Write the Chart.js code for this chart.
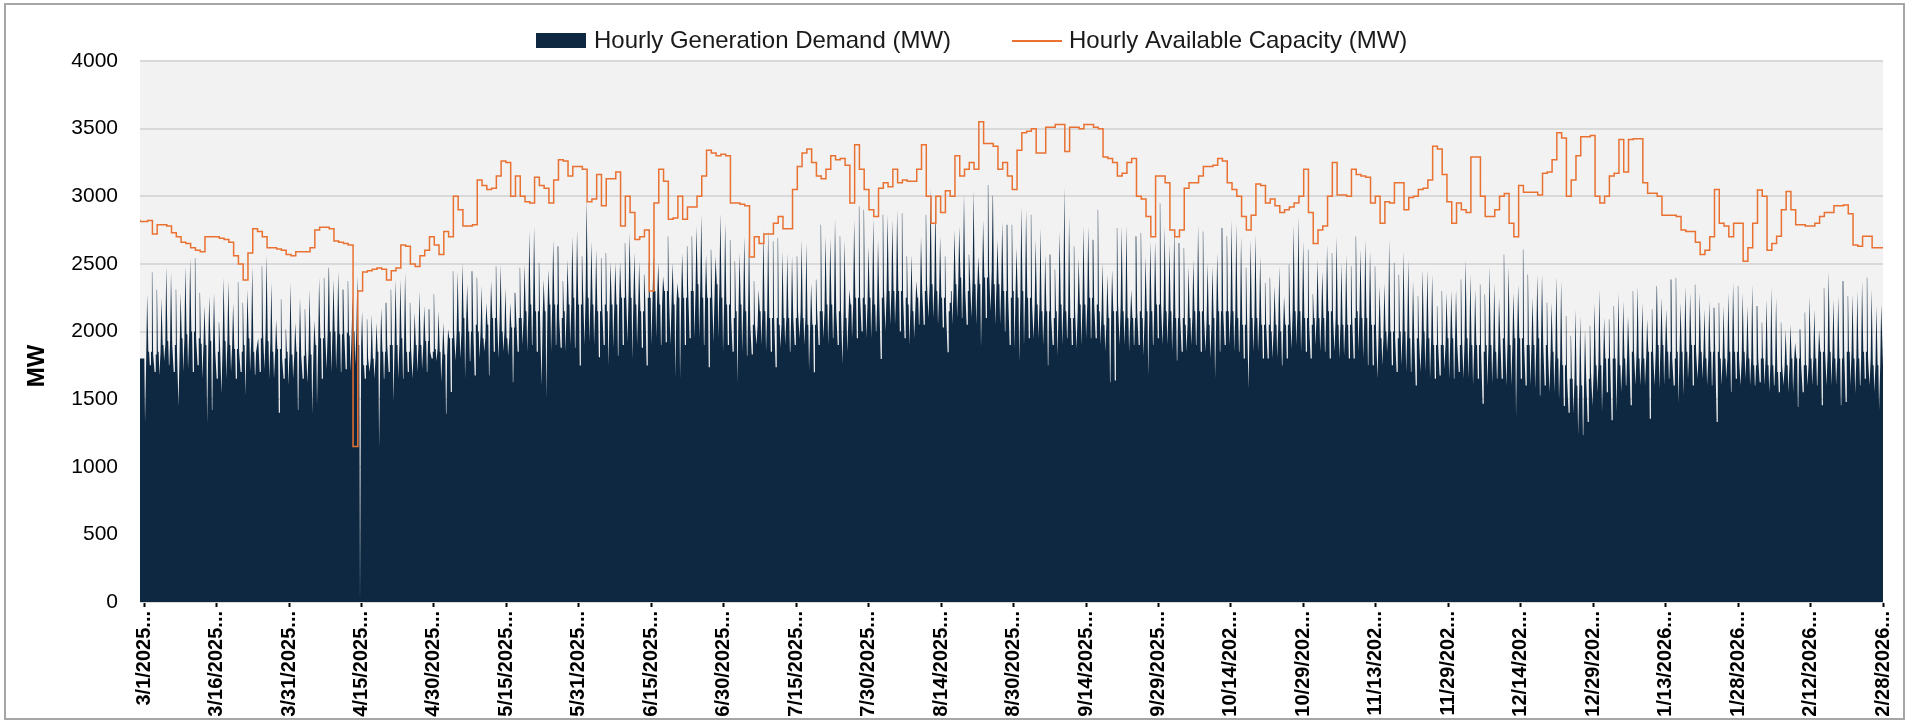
<!DOCTYPE html>
<html>
<head>
<meta charset="utf-8">
<script src="https://cdn.jsdelivr.net/npm/chart.js@4.4.1/dist/chart.umd.min.js"></script>
<style>
html,body{margin:0;padding:0;background:#fff;}
canvas{display:block;}
</style>
</head>
<body>
<canvas id="c" width="1911" height="723"></canvas>
<script>
// ---------- DATA ----------
const tickLabels = ['3/1/2025...','3/16/2025...','3/31/2025...','4/15/2025...','4/30/2025...','5/15/2025...','5/31/2025...','6/15/2025...','6/30/2025...','7/15/2025...','7/30/2025...','8/14/2025...','8/30/2025...','9/14/2025...','9/29/2025...','10/14/202...','10/29/202...','11/13/202...','11/29/202...','12/14/202...','12/29/202...','1/13/2026...','1/28/2026...','2/12/2026...','2/28/2026...'];
const yTicks = [0,500,1000,1500,2000,2500,3000,3500,4000];

// daily peak of hourly generation demand (MW), 3/1/2025 .. 2/27/2026
const demandPeak = [
2275,2439,2311,2250,2483,2439,2311,2287,2483,2544,2544,2287,2189,2262,2287,2066,2397,2373,2213,2365,
2213,2311,2483,1895,2483,2569,2360,2091,2238,2017,2360,2066,2250,2164,2311,2079,2397,2397,2471,2385,
2446,2311,2373,2262,2409,2150,2091,2128,2066,2176,2213,2311,2385,2385,2434,2213,2140,2299,2189,2164,
2275,2152,2066,2017,2446,2446,2508,2348,2446,2397,2336,2213,2373,2483,2495,2324,2213,2287,2471,2495,
2740,2777,2508,2385,2458,2679,2630,2373,2532,2704,2753,2557,2985,2667,2606,2544,2581,2520,2508,2520,
2655,2728,2581,2520,2422,2508,2557,2508,2409,2704,2508,2360,2581,2630,2704,2777,2863,2569,2606,2557,
2875,
2802,2679,2520,2581,2704,2728,2373,2311,2753,2753,2667,2691,2593,2581,2557,2557,2679,2655,2360,2385,
2789,2704,2691,2838,2704,2679,2311,2826,2924,2900,2630,2838,2679,2863,2863,2826,2900,2875,2557,2569,
2373,2704,2863,3059,2961,2704,2557,2213,2753,2777,3022,2569,3047,2557,2826,3083,3004,2679,2814,2789,
2789,2618,2924,2900,2863,2679,2765,2569,2569,2458,2740,3071,2851,2630,2544,2777,2777,2679,2900,2508,
2422,2458,2765,2777,2789,2311,2704,2728,2557,2667,2667,2949,2777,2643,2777,2655,2618,2483,2532,2789,
2740,2508,2483,2581,2765,2704,2826,2802,2704,2471,2679,2716,2557,2360,2397,2336,2483,2262,2495,2789,
2851,
2667,2606,2275,2532,2446,2643,2581,2704,2508,2569,2483,2704,2606,2679,2593,2483,2336,2360,2679,2508,
2422,2593,2532,2373,2262,2458,2458,2422,2189,2299,2287,2299,2311,2385,2532,2422,2311,2348,2275,2483,
2360,2250,2569,2483,2287,2348,2606,2422,2250,2422,2422,2213,2213,2409,2373,2115,1968,2164,2115,2017,
2042,
2213,2311,2103,2091,2189,2287,2226,2115,2299,2336,2213,2091,2164,2336,2250,2164,2385,2397,2213,2336,
2287,2348,2287,2164,2226,2176,2213,2189,2287,2360,2336,2287,2189,2348,2189,2066,2238,2324,2250,2066,
2017,2054,1919,2017,2140,2262,2164,2017,2324,2446,2238,2262,2373,2262,2275,2299,2373,2397,2311,2189,
2201
];

// typical daytime (body) level of hourly demand for each day (MW)
const demandBody = [
1800,1850,1830,1850,1900,1930,1900,1850,1950,1980,2000,1950,1910,1900,1930,1850,1900,1930,1900,1870,
1850,1900,1950,1850,1950,2000,1930,1850,1870,1800,1850,1830,1850,1820,1870,1830,1900,1950,2000,2000,
2000,1980,1990,1970,2000,1900,1750,1800,1800,1850,1850,1900,1900,1900,1950,1850,1870,1900,1900,1930,
1850,1870,1850,1830,1950,2000,2000,2100,2000,2050,2000,1950,2050,2100,2100,2000,1950,2030,2100,2100,
2150,2200,2150,2100,2150,2200,2200,2100,2150,2200,2250,2200,2300,2250,2200,2150,2200,2150,2200,2200,
2250,2300,2250,2200,2150,2250,2250,2300,2200,2300,2250,2200,2250,2250,2300,2300,2350,2250,2250,2300,
2350,
2250,2200,2100,2150,2200,2150,2050,2050,2150,2150,2100,2100,2050,2100,2100,2100,2150,2100,2050,2050,
2150,2150,2200,2200,2150,2150,2100,2200,2250,2250,2200,2250,2200,2250,2300,2300,2300,2300,2250,2200,
2150,2250,2300,2350,2350,2300,2250,2150,2300,2350,2400,2300,2400,2350,2350,2400,2450,2350,2350,2300,
2250,2300,2250,2300,2250,2200,2200,2150,2150,2100,2150,2200,2150,2100,2150,2200,2200,2250,2200,2150,
2050,2100,2150,2200,2150,2100,2100,2150,2100,2150,2150,2200,2200,2150,2150,2100,2100,2050,2100,2150,
2150,2100,2050,2100,2150,2150,2150,2150,2100,2050,2100,2100,2100,2050,2050,2000,2050,2000,2050,2150,
2150,
2150,2100,2050,2100,2100,2100,2150,2100,2050,2050,2050,2100,2150,2100,2100,2050,2000,1950,2000,2000,
1950,2000,2000,1950,1950,1950,2000,1950,1900,1900,1900,1950,1950,1900,1950,1950,1900,1900,1850,1900,
1900,1850,1950,1950,1900,1950,1950,1900,1900,1900,1950,1900,1850,1850,1800,1750,1650,1650,1600,1600,
1650,
1700,1750,1750,1800,1800,1800,1750,1800,1850,1850,1800,1800,1850,1850,1900,1900,1850,1800,1850,1850,
1850,1900,1850,1850,1800,1850,1850,1800,1800,1850,1850,1800,1850,1800,1750,1800,1800,1750,1750,1700,
1750,1750,1800,1800,1750,1750,1800,1800,1850,1850,1850,1800,1800,1850,1850,1800,1800,1850,1800,1750,
1750
];

// daily overnight minimum of hourly demand (MW)
const demandLow = [
1320,1750,1700,1674,1780,1750,1700,1450,1700,1720,1700,1750,1650,1320,1420,1650,1540,1650,1700,1650,
1700,1527,1700,1680,1700,1720,1650,1650,1400,1650,1600,1650,1420,1650,1620,1392,1454,1650,1720,1700,
1720,1700,1720,1700,1750,0,1650,1700,1650,1140,1650,1700,1478,1650,1650,1700,1650,1700,1720,1700,
1800,1780,1625,1392,1552,1780,1800,1650,1780,1674,1800,1850,1674,1850,1800,1850,1820,1625,1850,1900,
1850,1900,1850,1600,1503,1850,1900,1880,1850,1900,1880,1748,1900,1920,1900,1809,1900,1748,1880,1821,
1900,1920,1797,1900,1880,1748,1900,1950,1900,1920,1900,1662,1650,1900,1950,1950,1950,1900,1735,1919,
1950,
1850,1900,1850,1625,1850,1821,1830,1900,1900,1850,1850,1735,1880,1900,1850,1900,1950,1900,1711,1699,
1900,1950,1900,1950,1900,1760,1850,1950,1950,2000,1950,1950,2000,1797,2000,2050,2050,2000,1950,1895,
1950,2050,2050,2100,2100,2050,2029,1846,2050,2100,2100,2050,2100,2050,1882,2100,2150,2050,2050,2000,
1900,1870,1772,1900,1950,1944,1950,1900,1748,1900,1821,1900,1950,1900,1870,1900,1950,1950,1950,1900,
1850,1625,1637,1900,1900,1850,1900,1900,1821,1674,1900,1950,1900,1900,1850,1785,1850,1850,1900,1900,
1850,1850,1800,1650,1850,1900,1900,1850,1850,1800,1576,1850,1850,1800,1800,1800,1800,1748,1800,1870,
1900,
1850,1850,1800,1895,1850,1850,1800,1850,1800,1821,1800,1800,1850,1800,1750,1750,1650,1750,1846,1750,
1700,1750,1700,1700,1600,1700,1700,1650,1650,1674,1723,1650,1650,1700,1650,1650,1600,1650,1466,1600,
1620,1650,1650,1600,1600,1368,1650,1600,1600,1576,1527,1600,1550,1550,1500,1450,1400,1392,1233,1233,
1331,
1450,1550,1404,1550,1343,1404,1550,1600,1454,1600,1600,1600,1355,1600,1576,1600,1650,1600,1466,1527,
1650,1600,1650,1650,1600,1600,1331,1600,1650,1552,1650,1600,1650,1600,1600,1625,1600,1550,1600,1550,
1600,1550,1550,1441,1550,1600,1600,1600,1454,1600,1600,1600,1454,1478,1600,1540,1600,1650,1600,1550,
1417
];

// hourly available capacity, one level per day (MW)
const capacity = [
2826,2814,2820,2720,2790,2790,2780,2730,2700,2660,2650,2620,2600,2590,2700,2700,2700,2690,2680,2660,
2560,2500,2380,2580,2760,2740,2700,2620,2620,2610,2600,2570,2560,2590,2590,2590,2620,2750,2770,2770,
2760,2670,2660,2650,2640,1150,2300,2440,2450,2460,2470,2460,2380,2450,2470,2640,2630,2500,2480,2560,
2600,2700,2640,2570,2740,2700,3000,2900,2780,2780,2790,3120,3080,3050,3060,3150,3260,3250,3000,3150,
3000,2960,2950,3140,3080,3060,2950,3120,3270,3260,3150,3220,3220,3200,2960,2980,3160,2930,3130,3130,
3180,2780,3000,2880,2680,2700,2750,2300,2950,3200,3110,2830,2840,3000,2830,2920,2920,3000,3150,3340,
3320,3300,3310,3300,2950,2950,2940,2930,2550,2700,2650,2720,2720,2800,2850,2760,2760,3050,3220,3320,
3350,3250,3150,3130,3200,3300,3270,3280,3230,2950,3380,3200,3050,2900,2850,3060,3100,3070,3200,3100,
3120,3110,3110,3200,3380,3000,2800,3000,2880,3040,3000,3300,3150,3200,3250,3200,3550,3390,3390,3370,
3200,
3250,
3150,3050,3340,3470,3480,3500,3320,3320,3510,3510,3530,3530,3330,3510,3510,3500,3530,3530,3510,3500,
3290,3280,3250,3150,3170,3250,3280,3000,2980,2850,2700,3150,3150,3100,2750,2700,2750,3060,3100,3100,
3150,3220,3220,3230,3280,3260,3100,3050,3000,2850,2750,2860,3090,3080,2950,2980,2930,2880,2900,2920,
2950,
3000,3200,2880,2650,2750,2780,3000,3250,3010,3010,3000,3200,3160,3150,3140,2950,3000,2800,2960,2950,
3100,3100,2900,2990,3000,3050,3060,3120,3370,3350,3160,2960,2800,2950,2900,2880,3290,3290,3000,2850,
2850,2900,3000,3020,2800,2700,3080,3030,3030,3030,3010,3170,3180,3270,3470,3430,3000,3120,3300,3440,
3440,
3450,3000,2950,3000,3150,3170,3420,3180,3420,3426,3426,3100,3022,3022,3000,2860,2860,2860,2850,2750,
2740,2740,2660,2570,2600,2700,3050,2800,2780,2700,2800,2800,2520,2620,2800,3047,3000,2600,2650,2704,
2900,3035,2900,2790,2790,2780,2780,2800,2850,2880,2880,2930,2930,2935,2870,2640,2630,2704,2704,2620
];

// ---------- build library tables ----------
const DAYS = demandPeak.length;           // 364 days
const TICK_STEP = 364 / 24;               // a label every 364 hours
const tickPos = tickLabels.map((_, k) => k * TICK_STEP);
// position of the hourly profile points inside each day
const OFF = [-0.125, 0.03, 0.18, 0.27, 0.42, 0.48, 0.62, 0.69];
const demandPts = [{x: -0.875, y: demandBody[0]}];
for (let i = 0; i < DAYS; i++) {
  const b = demandBody[i], l = demandLow[i], p = demandPeak[i];
  const v = [b, b, l, l, b, b, p, p];
  for (let k = 0; k < v.length; k++) demandPts.push({x: i + OFF[k], y: v[k]});
}
demandPts.push({x: 364, y: demandBody[DAYS - 1]});
const capacityPts = capacity.map((v, i) => ({x: i === 0 ? -0.875 : i - 0.275, y: v}));
capacityPts.push({x: 364, y: capacity[capacity.length - 1]});

const FONT = '"Liberation Sans", Arial, Helvetica, sans-serif';
const NAVY = '#0E2841';
const ORANGE = '#E97132';

const decor = {
  id: 'decor',
  beforeDraw(chart) {
    const c = chart.ctx, a = chart.chartArea;
    c.save();
    c.fillStyle = '#ffffff';
    c.fillRect(0, 0, chart.width, chart.height);
    c.fillStyle = '#f2f2f2';
    c.fillRect(a.left, a.top, a.right - a.left, a.bottom - a.top);
    c.restore();
  },
  afterDraw(chart) {
    const c = chart.ctx;
    c.save();
    c.strokeStyle = '#a6a6a6';
    c.lineWidth = 2;
    c.strokeRect(5, 4, 1899, 715);
    // legend
    c.fillStyle = NAVY;
    c.fillRect(536, 33, 50, 15);
    c.fillStyle = '#1a1a1a';
    c.font = '24px ' + FONT;
    c.textBaseline = 'middle';
    c.textAlign = 'left';
    c.fillText('Hourly Generation Demand (MW)', 594, 41, 357);
    c.strokeStyle = ORANGE;
    c.lineWidth = 2;
    c.beginPath(); c.moveTo(1012, 41); c.lineTo(1062, 41); c.stroke();
    c.fillText('Hourly Available Capacity (MW)', 1069, 41, 340);
    // y axis title
    c.translate(37, 366);
    c.rotate(-Math.PI / 2);
    c.font = 'bold 24px ' + FONT;
    c.textAlign = 'center';
    c.fillStyle = '#000';
    c.fillText('MW', 0, 0);
    c.restore();
  }
};

new Chart(document.getElementById('c'), {
  type: 'line',
  data: {
    datasets: [
      { label: 'Hourly Available Capacity (MW)', data: capacityPts, borderColor: ORANGE, borderWidth: 1.5,
        stepped: 'after', pointRadius: 0, fill: false },
      { label: 'Hourly Generation Demand (MW)', data: demandPts, borderWidth: 0, borderColor: NAVY,
        backgroundColor: NAVY, fill: 'origin', pointRadius: 0, tension: 0 }
    ]
  },
  options: {
    responsive: false, animation: false, parsing: false, normalized: true,
    layout: { padding: { left: 0, right: 19, top: 61, bottom: 0 } },
    plugins: { legend: { display: false }, tooltip: { enabled: false } },
    scales: {
      x: {
        type: 'linear', min: -0.875, max: 364,
        afterBuildTicks: s => { s.ticks = tickPos.map(v => ({ value: v })); },
        afterFit: s => { s.height = 121; },
        ticks: { autoSkip: false, maxRotation: 90, minRotation: 90, padding: 4, color: '#000',
                 font: { family: FONT, size: 20, weight: 'bold' },
                 callback: (v, i) => tickLabels[i] },
        grid: { drawOnChartArea: false, drawTicks: true, tickLength: 5, tickColor: '#000', tickWidth: 2 },
        border: { display: true, color: '#d9d9d9', width: 1 }
      },
      y: {
        min: 0, max: 4000,
        afterBuildTicks: s => { s.ticks = yTicks.map(v => ({ value: v })); },
        afterFit: s => { s.width = 140; },
        ticks: { padding: 22, color: '#000', font: { family: FONT, size: 21 },
                 callback: v => String(v) },
        grid: { color: '#d9d9d9', lineWidth: 2, drawTicks: false },
        border: { display: false }
      }
    }
  },
  plugins: [decor]
});
</script>
</body>
</html>
